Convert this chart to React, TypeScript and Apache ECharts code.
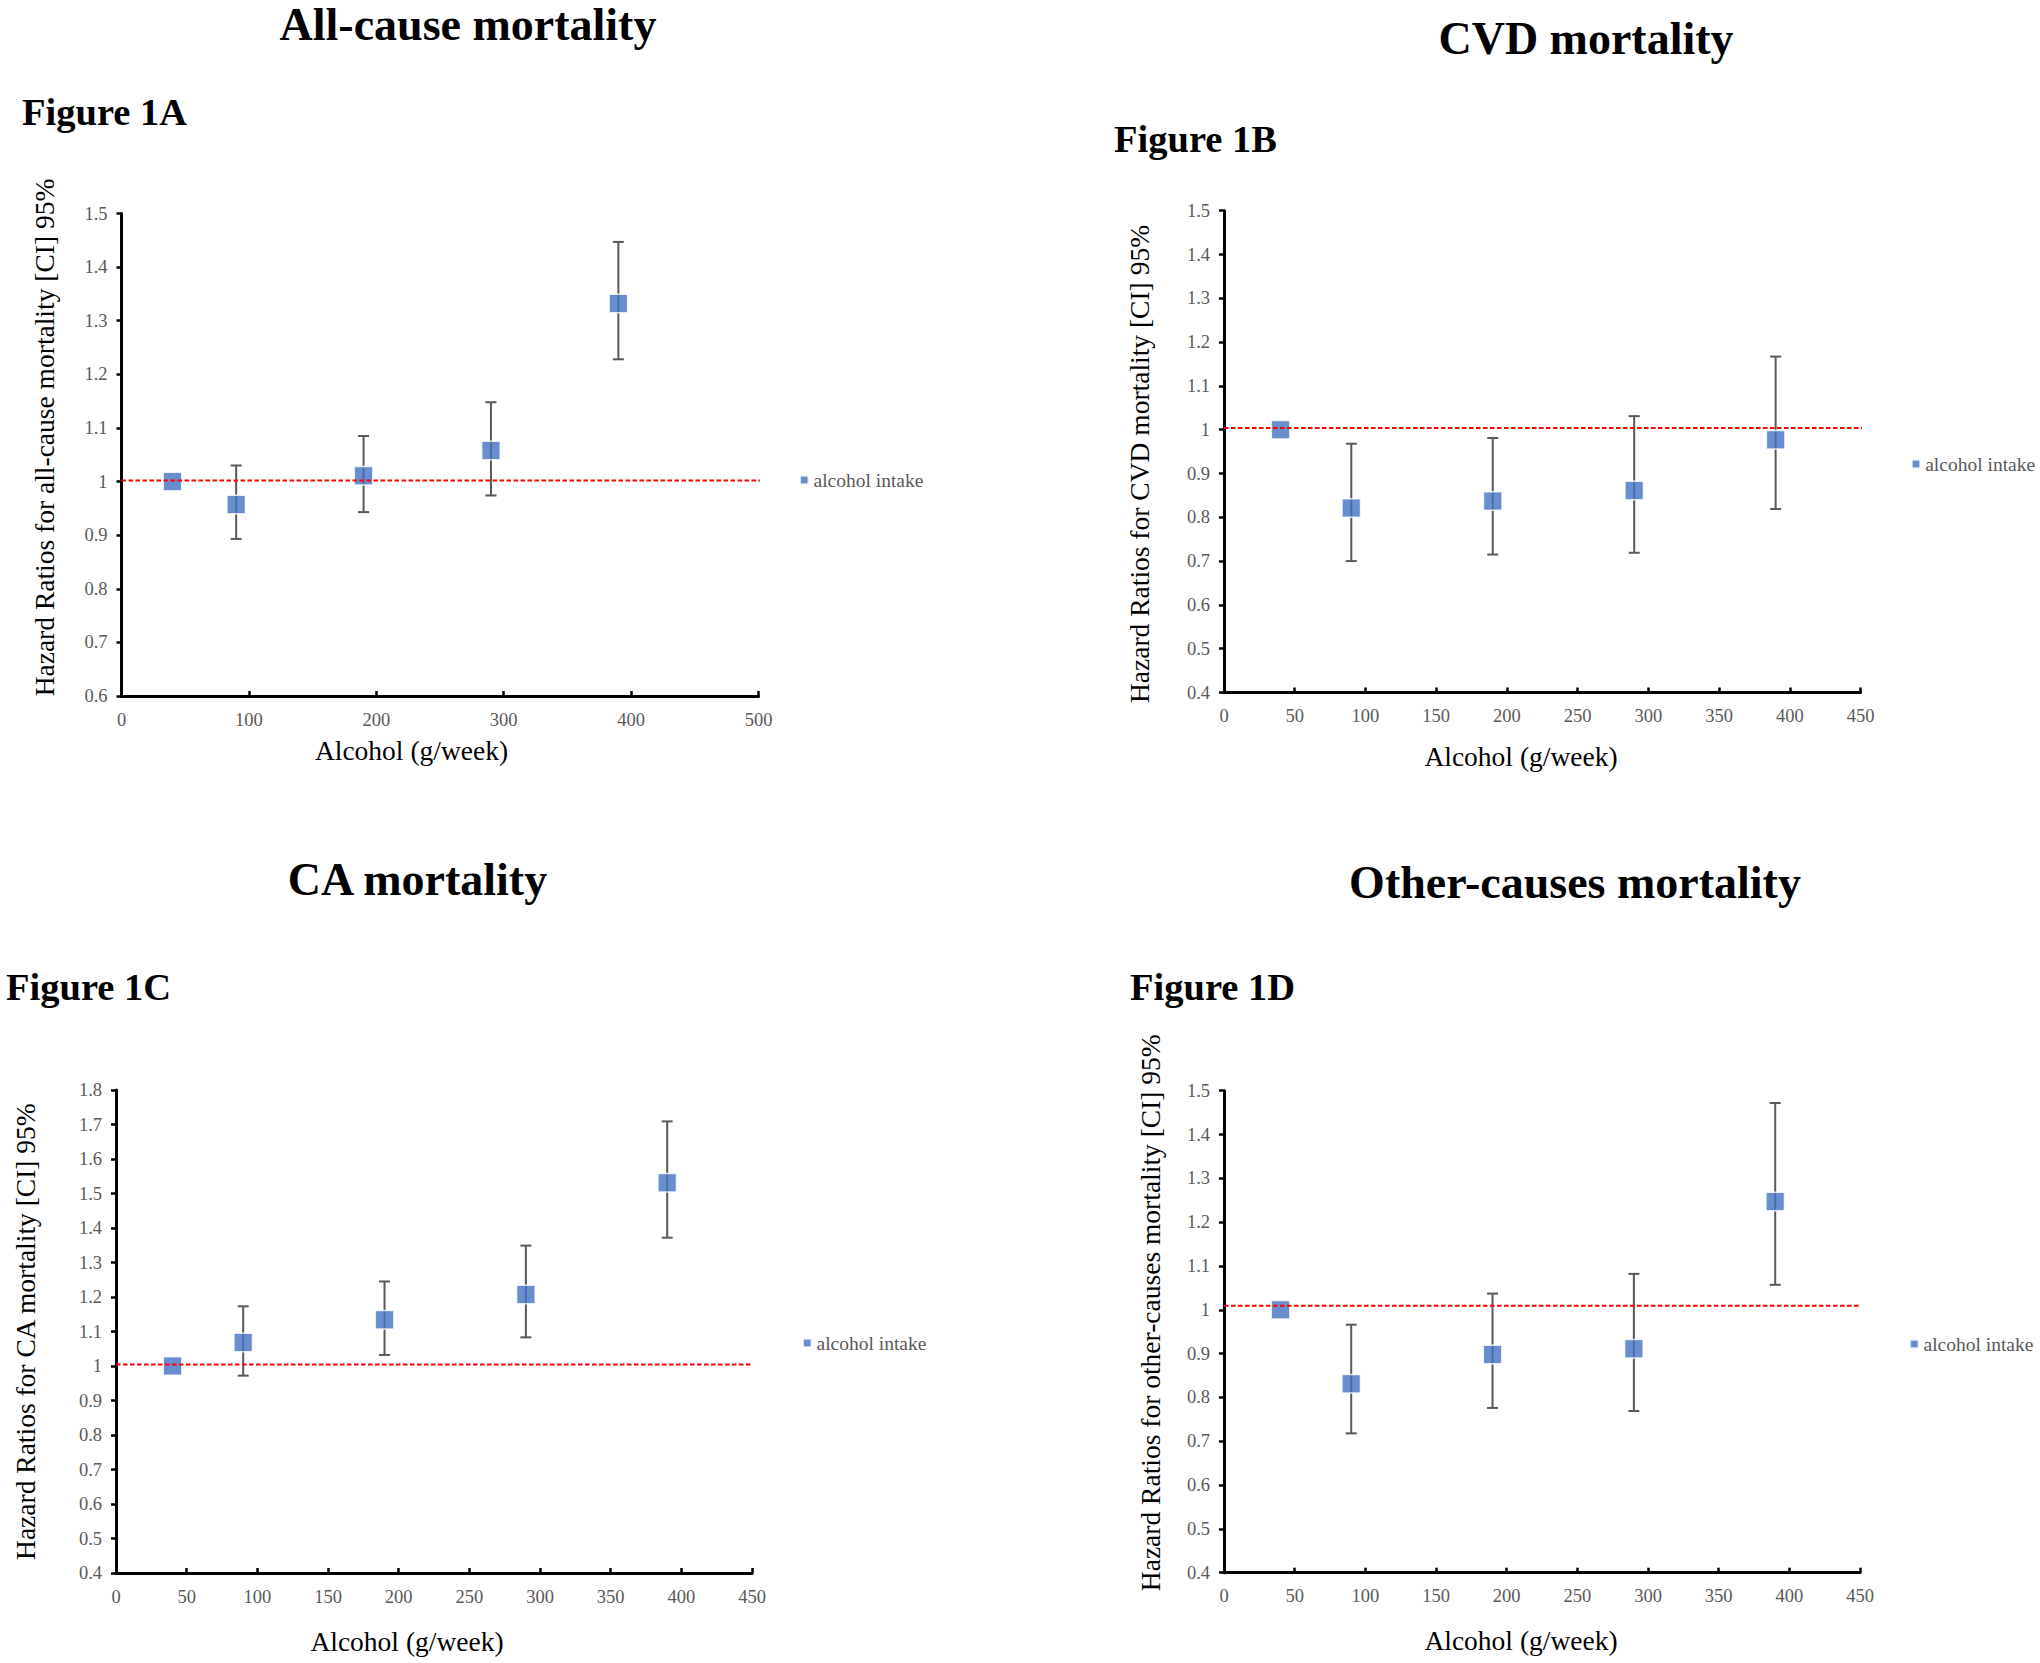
import React, { useEffect, useRef } from "react";
import * as echarts from "echarts";

const FONT = '"Liberation Serif", "Times New Roman", Times, serif';

// Alcohol intake (g/week) categories
const doses = [40, 90, 190, 290, 390];

// Panel A: All-cause mortality
const hrA = [1.0, 0.957, 1.011, 1.058, 1.332];
const loA = [1.0, 0.893, 0.943, 0.974, 1.228];
const hiA = [1.0, 1.03, 1.085, 1.148, 1.447];

// Panel B: CVD mortality
const hrB = [1.0, 0.821, 0.837, 0.861, 0.977];
const loB = [1.0, 0.7, 0.715, 0.719, 0.819];
const hiB = [1.0, 0.968, 0.981, 1.031, 1.167];

// Panel C: CA mortality
const hrC = [1.0, 1.068, 1.134, 1.207, 1.531];
const loC = [1.0, 0.972, 1.032, 1.083, 1.372];
const hiC = [1.0, 1.173, 1.245, 1.349, 1.709];

// Panel D: Other-causes mortality
const hrD = [1.0, 0.831, 0.898, 0.911, 1.247];
const loD = [1.0, 0.718, 0.776, 0.769, 1.057];
const hiD = [1.0, 0.966, 1.037, 1.082, 1.472];

// Reference (dashed red) lines: value and x-extent
const refValues = [1.002, 1.004, 1.004, 1.0095];
const refEnds = [512, 494, 450, 452];

// Axis ranges
const xMax = [500, 450, 450, 450];
const xInterval = [100, 50, 50, 50];
const yMin = [0.6, 0.4, 0.4, 0.4];
const yMax = [1.5, 1.5, 1.8, 1.5];

const titles = ["All-cause mortality", "CVD mortality", "CA mortality", "Other-causes mortality"];
const figureLabels = ["Figure 1A", "Figure 1B", "Figure 1C", "Figure 1D"];
const yTitles = [
  "Hazard Ratios for all-cause mortality [CI] 95%",
  "Hazard Ratios for CVD mortality [CI] 95%",
  "Hazard Ratios for CA mortality [CI] 95%",
  "Hazard Ratios for other-causes mortality [CI] 95%",
];
const xTitle = "Alcohol (g/week)";
const seriesName = "alcohol intake";

// Layout (pixels)
const grids = [
  { left: 121.5, top: 213.5, width: 637, height: 482.5 },
  { left: 1224, top: 210.7, width: 636.5, height: 481.8 },
  { left: 116, top: 1090, width: 636, height: 483 },
  { left: 1224, top: 1090.7, width: 636, height: 482 },
];
const titlePos = [
  [468, 24],
  [1586, 38],
  [417.5, 879],
  [1575, 882],
];
const figPos = [
  [22, 112],
  [1114, 139],
  [6, 987],
  [1130, 987],
];
const xTitlePos = [
  [411.5, 750],
  [1521, 756],
  [407, 1641],
  [1521, 1640],
];
const yTitlePos = [
  [44.6, 437.5],
  [1139, 464],
  [25.5, 1331.6],
  [1150, 1312.7],
];
const legendPos = [
  [799, 480],
  [1910.7, 464],
  [802, 1343],
  [1909, 1344],
];

const panels = [
  { hr: hrA, lo: loA, hi: hiA },
  { hr: hrB, lo: loB, hi: hiB },
  { hr: hrC, lo: loC, hi: hiC },
  { hr: hrD, lo: loD, hi: hiD },
];

function buildOption(): any {
  const grid = grids.map((g) => ({ ...g, containLabel: false }));
  const xAxis = grids.map((_, i) => ({
    type: "value",
    gridIndex: i,
    min: 0,
    max: xMax[i],
    interval: xInterval[i],
    splitLine: { show: false },
    axisLine: { show: true, onZero: false, lineStyle: { color: "#000", width: 3 } },
    axisTick: { show: true, inside: true, length: 5, lineStyle: { color: "#000", width: 2.5 } },
    axisLabel: { color: "#595959", fontFamily: FONT, fontSize: 18.5, margin: 14 },
  }));
  const yAxis = grids.map((_, i) => ({
    type: "value",
    gridIndex: i,
    min: yMin[i],
    max: yMax[i],
    interval: 0.1,
    splitLine: { show: false },
    axisLine: { show: true, onZero: false, lineStyle: { color: "#000", width: 3 } },
    axisTick: { show: true, inside: false, length: 5, lineStyle: { color: "#000", width: 2.5 } },
    axisLabel: {
      color: "#595959",
      fontFamily: FONT,
      fontSize: 18.5,
      margin: 14,
      formatter: (v: number) => String(+v.toFixed(2)),
    },
  }));

  const series: any[] = [];
  panels.forEach((p, i) => {
    const errData = doses
      .map((d, k) => [d, p.lo[k], p.hi[k]])
      .filter((r) => r[1] !== r[2]);
    series.push({
      type: "custom",
      name: "ci" + i,
      xAxisIndex: i,
      yAxisIndex: i,
      z: 2,
      silent: true,
      encode: { x: 0, y: [1, 2] },
      data: errData,
      renderItem: (params: any, api: any) => {
        const x = api.value(0);
        const top = api.coord([x, api.value(2)]);
        const bot = api.coord([x, api.value(1)]);
        const hw = 5.5;
        const st = { stroke: "#595959", lineWidth: 2 };
        return {
          type: "group",
          children: [
            { type: "line", shape: { x1: top[0], y1: top[1], x2: bot[0], y2: bot[1] }, style: st },
            { type: "line", shape: { x1: top[0] - hw, y1: top[1], x2: top[0] + hw, y2: top[1] }, style: st },
            { type: "line", shape: { x1: bot[0] - hw, y1: bot[1], x2: bot[0] + hw, y2: bot[1] }, style: st },
          ],
        };
      },
    });
    series.push({
      type: "scatter",
      name: seriesName,
      xAxisIndex: i,
      yAxisIndex: i,
      z: 3,
      symbol: "rect",
      symbolSize: 18.5,
      itemStyle: { color: "#4472C4", borderColor: "#ffffff", borderWidth: 1.5 },
      data: doses.map((d, k) => [d, p.hr[k]]),
    });
    series.push({
      type: "line",
      name: "ref" + i,
      xAxisIndex: i,
      yAxisIndex: i,
      z: 4,
      silent: true,
      clip: false,
      symbol: "none",
      lineStyle: { color: "#FF0000", width: 2, type: [4.5, 2.5] },
      data: [
        [0, refValues[i]],
        [refEnds[i], refValues[i]],
      ],
    });
  });

  const legend = legendPos.map(([lx, ly]) => ({
    data: [seriesName],
    left: lx,
    top: ly - 10,
    orient: "horizontal",
    icon: "rect",
    itemWidth: 8.5,
    itemHeight: 8.5,
    padding: 0,
    selectedMode: false,
    textStyle: { fontFamily: FONT, fontSize: 19.5, color: "#595959", padding: [0, 0, 0, 0] },
  }));

  const graphic: any[] = [];
  titles.forEach((t, i) => {
    graphic.push({
      type: "text",
      x: titlePos[i][0],
      y: titlePos[i][1],
      style: {
        text: t,
        font: `bold 46px ${FONT}`,
        fill: "#000",
        align: "center",
        verticalAlign: "middle",
      },
    });
    graphic.push({
      type: "text",
      x: figPos[i][0],
      y: figPos[i][1],
      style: {
        text: figureLabels[i],
        font: `bold 38.5px ${FONT}`,
        fill: "#000",
        align: "left",
        verticalAlign: "middle",
      },
    });
    graphic.push({
      type: "text",
      x: xTitlePos[i][0],
      y: xTitlePos[i][1],
      style: {
        text: xTitle,
        font: `27.5px ${FONT}`,
        fill: "#000",
        align: "center",
        verticalAlign: "middle",
      },
    });
    graphic.push({
      type: "text",
      x: yTitlePos[i][0],
      y: yTitlePos[i][1],
      rotation: Math.PI / 2,
      style: {
        text: yTitles[i],
        font: `27.5px ${FONT}`,
        fill: "#000",
        align: "center",
        verticalAlign: "middle",
      },
    });
  });

  return {
    animation: false,
    backgroundColor: "#ffffff",
    grid,
    xAxis,
    yAxis,
    legend,
    graphic,
    series,
  };
}

export default function App() {
  const ref = useRef<HTMLDivElement>(null);
  useEffect(() => {
    if (!ref.current) return;
    const chart = echarts.init(ref.current, null, { renderer: "svg" });
    chart.setOption(buildOption());
    return () => chart.dispose();
  }, []);
  return (
    <div
      ref={ref}
      style={{ position: "absolute", left: 0, top: 0, width: 2040, height: 1663, background: "#fff" }}
    />
  );
}
